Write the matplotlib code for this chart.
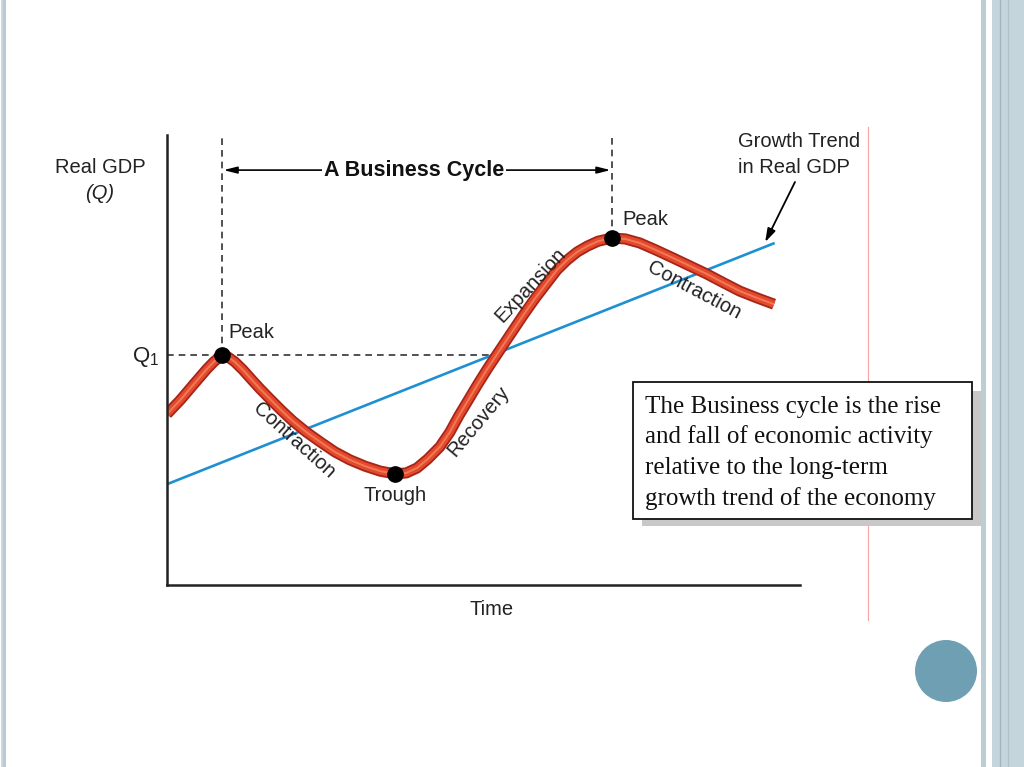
import numpy as np
import matplotlib.pyplot as plt
from matplotlib.patches import Rectangle, Circle

plt.rcParams['font.family'] = ['Liberation Sans', 'DejaVu Sans']
plt.rcParams['mathtext.fontset'] = 'custom'
plt.rcParams['mathtext.rm'] = 'Liberation Sans'
plt.rcParams['mathtext.it'] = 'Liberation Sans:italic'

W, H = 1024, 767

# real GDP over time (arbitrary units)
time = [0.0, 0.21, 0.44, 0.63, 0.74, 0.81, 0.87,
        0.96, 1.07, 1.2, 1.34, 1.47, 1.63, 1.8, 1.99, 2.2, 2.42, 2.65, 2.89,
        3.13, 3.37, 3.6,
        3.78, 3.95, 4.12, 4.31, 4.47, 4.61, 4.76, 4.9, 5.06, 5.23, 5.42, 5.62,
        5.81, 6.0, 6.16, 6.32, 6.48, 6.64, 6.81, 7.03,
        7.24, 7.47, 7.73, 7.99, 8.26, 8.53, 8.8, 9.05, 9.32, 9.59]
gdp = [3.8, 4.11, 4.49, 4.8, 4.96, 5.04, 5.11,
       5.07, 4.96, 4.78, 4.56, 4.36, 4.13, 3.89, 3.64, 3.4, 3.18, 2.96, 2.78,
       2.64, 2.53, 2.47,
       2.49, 2.6, 2.8, 3.07, 3.4, 3.76, 4.11, 4.44, 4.8, 5.16, 5.56, 5.98,
       6.36, 6.71, 7.0, 7.22, 7.4, 7.53, 7.64, 7.71,
       7.69, 7.6, 7.44, 7.27, 7.09, 6.91, 6.71, 6.53, 6.38, 6.24]

# long-term growth trend
trend_time = [0.0, 9.6]
trend_gdp = [2.24, 7.6]

# turning points
peak_time = [0.87, 7.03]
peak_gdp = [5.11, 7.71]
trough_time = [3.6]
trough_gdp = [2.47]
q1 = 5.11
q1_cross = 5.2
cycle_arrow_y = 9.22


def fx(x):
    return x / W


def fy(y):
    return 1 - y / H


fig = plt.figure(figsize=(W / 100, H / 100), dpi=100)

# slide background decorations (pixel coords)
bg = fig.add_axes([0, 0, 1, 1], zorder=-1)
bg.set_xlim(0, W)
bg.set_ylim(H, 0)
bg.axis('off')
bg.add_patch(Rectangle((1, 0), 1.5, H, color='#c9d7de', lw=0))
bg.add_patch(Rectangle((3, 0), 3, H, color='#b8cbd4', lw=0))
bg.add_patch(Rectangle((981, 0), 4.5, H, color='#bccdd5', lw=0))
bg.add_patch(Rectangle((992, 0), 32, H, color='#c5d5dc', lw=0))
bg.plot([1000, 1000], [0, H], color='#9fb4bf', lw=1)
bg.plot([1008, 1008], [0, H], color='#b0c3cc', lw=1)
bg.plot([868, 868], [127, 620], color='#f5a3a3', lw=0.8)
bg.add_patch(Circle((946, 671), 31, color='#6e9fb3', lw=0))

# text box with shadow
bg.add_patch(Rectangle((642, 391), 340, 135, color='#c8c8c8', lw=0, zorder=3))
bg.add_patch(Rectangle((633, 382), 339, 137, facecolor='white', edgecolor='#111',
                       lw=1.3, zorder=4))
box_lines = ['The Business cycle is the rise',
             'and fall of economic activity',
             'relative to the long-term',
             'growth trend of the economy']
for i, line in enumerate(box_lines):
    bg.text(645, 413 + i * 30.5, line, fontsize=18, family='Liberation Serif',
            va='baseline', ha='left', color='#111', zorder=5)

# chart
ax = fig.add_axes([167 / W, (H - 585) / H, 633 / W, 450 / H])
ax.set_facecolor('none')
ax.set_xlim(0, 10)
ax.set_ylim(0, 10)
ax.set_xticks([])
ax.set_yticks([])
for s in ['top', 'right']:
    ax.spines[s].set_visible(False)
for s in ['left', 'bottom']:
    ax.spines[s].set_linewidth(1.8)
    ax.spines[s].set_color('#222')

dash = (0, (4, 3))
ax.plot([0, q1_cross], [q1, q1], ls=dash, color='#333', lw=1.2)
ax.plot([peak_time[0]] * 2, [q1, 10], ls=dash, color='#333', lw=1.2)
ax.plot([peak_time[1]] * 2, [peak_gdp[1], 10], ls=dash, color='#333', lw=1.2)

ax.plot(trend_time, trend_gdp, color='#1e90d2', lw=1.9, solid_capstyle='butt')

ax.plot(time, gdp, color='#a62418', lw=8, solid_capstyle='butt', solid_joinstyle='round')
ax.plot(time, gdp, color='#e4492c', lw=5.4, solid_capstyle='butt', solid_joinstyle='round')
ax.plot(time, gdp, color='#f07a58', lw=1.4, solid_capstyle='butt', solid_joinstyle='round')

ax.plot(peak_time, peak_gdp, 'o', color='black', ms=11, zorder=5)
ax.plot(trough_time, trough_gdp, 'o', color='black', ms=11, zorder=5)

# business cycle span arrow
ax.annotate('', xy=(peak_time[0], cycle_arrow_y), xytext=(peak_time[1], cycle_arrow_y),
            arrowprops=dict(arrowstyle='<|-|>,head_length=0.8,head_width=0.2',
                            color='black', lw=1.2, shrinkA=1, shrinkB=1))
ax.text(3.9, cycle_arrow_y, 'A Business Cycle', fontsize=15.5, fontweight='bold',
        ha='center', va='center', color='#111',
        bbox=dict(facecolor='white', edgecolor='none', pad=1.5))

# growth trend arrow
ax.annotate('', xy=(9.45, 7.62), xycoords='data',
            xytext=(fx(795), fy(182)), textcoords='figure fraction',
            arrowprops=dict(arrowstyle='-|>,head_length=0.8,head_width=0.25',
                            color='black', lw=1.3, shrinkA=0, shrinkB=0))

# labels
tc = '#222'
fig.text(fx(100), fy(173), 'Real GDP', fontsize=14.5, ha='center', va='baseline', color=tc)
fig.text(fx(100), fy(199), '(Q)', fontsize=14.5, style='italic', ha='center',
         va='baseline', color=tc)
fig.text(fx(159), fy(362), 'Q$_\\mathrm{1}$', fontsize=16, ha='right', va='baseline', color=tc)
fig.text(fx(492), fy(615), 'Time', fontsize=14.5, ha='center', va='baseline', color=tc)
fig.text(fx(738), fy(147), 'Growth Trend', fontsize=14.5, ha='left', va='baseline', color=tc)
fig.text(fx(738), fy(173), 'in Real GDP', fontsize=14.5, ha='left', va='baseline', color=tc)
fig.text(fx(228), fy(338), 'Peak', fontsize=14.5, ha='left', va='baseline', color=tc)
fig.text(fx(622), fy(225), 'Peak', fontsize=14.5, ha='left', va='baseline', color=tc)
fig.text(fx(395), fy(501), 'Trough', fontsize=14.5, ha='center', va='baseline', color=tc)
fig.text(fx(294), fy(440), 'Contraction', fontsize=14.5, rotation=-42,
         ha='center', va='center', rotation_mode='anchor', color=tc)
fig.text(fx(479), fy(421), 'Recovery', fontsize=14.5, rotation=50,
         ha='center', va='center', rotation_mode='anchor', color=tc)
fig.text(fx(531), fy(285), 'Expansion', fontsize=14.5, rotation=47,
         ha='center', va='center', rotation_mode='anchor', color=tc)
fig.text(fx(694), fy(290), 'Contraction', fontsize=14.5, rotation=-28,
         ha='center', va='center', rotation_mode='anchor', color=tc)

fig.savefig('out.png', dpi=100)
